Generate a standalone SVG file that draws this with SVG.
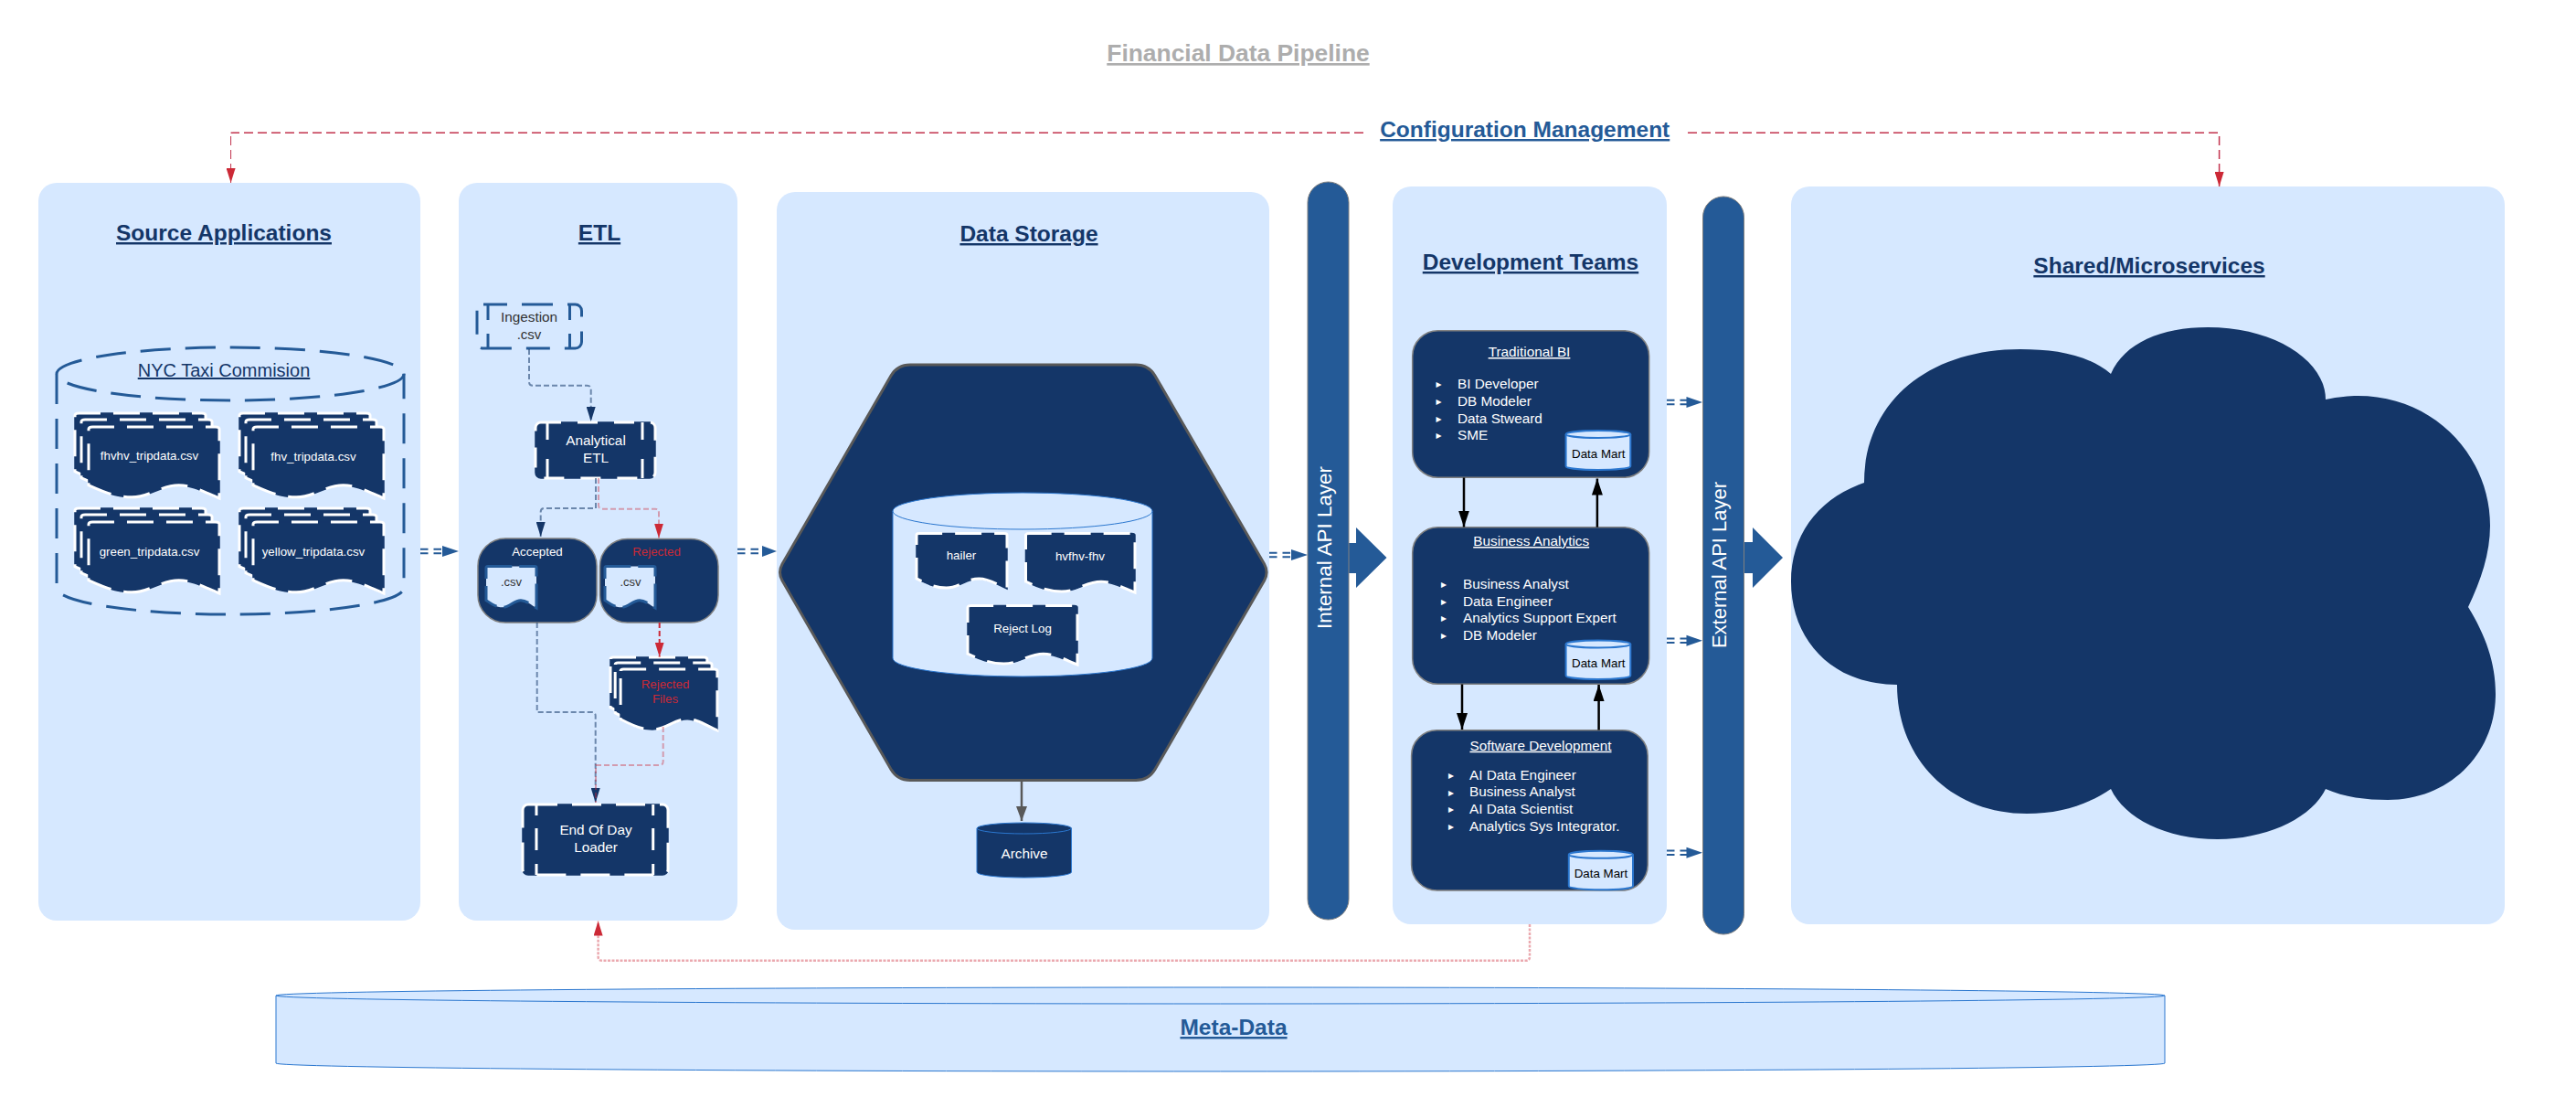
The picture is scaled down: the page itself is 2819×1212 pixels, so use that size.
<svg xmlns="http://www.w3.org/2000/svg" width="2819" height="1212" viewBox="0 0 2819 1212">
<style>
text{font-family:"Liberation Sans",Arial,sans-serif;text-anchor:middle}
.panel{fill:#d6e8ff}
.h{font-size:24.5px;font-weight:bold;fill:#143668;text-decoration:underline}
.hb{font-size:24.5px;font-weight:bold;fill:#245a97;text-decoration:underline}
.t13{font-size:13.33px;fill:#fff}
.t15{font-size:15.33px;fill:#fff}
.li{font-size:15.33px;fill:#fff;text-anchor:start}
.bu{font-size:12px;fill:#fff;font-family:"DejaVu Sans",sans-serif}
.u{text-decoration:underline}
.red{fill:#cc2936}
.blk{font-size:13.33px;fill:#000}
.base{fill:#143668;stroke:#143668;stroke-width:1.5}
.wd{fill:none;stroke:#fff;stroke-width:3;stroke-dasharray:29 14}
.ld{fill:#d6e8ff;stroke:#245a97;stroke-width:3;stroke-dasharray:29 8}
.wl{fill:none;stroke:#fff;stroke-width:3}
.box{fill:#143668;stroke:#808080;stroke-width:1.5}
.api{fill:#245a97;stroke:#808080;stroke-width:1}
.blk-arrow{fill:#245a97}
.cyl{fill:#d6e8ff;stroke:#2b77cf;stroke-width:1}
.cyln{fill:#143668;stroke:#2b77cf;stroke-width:1}
.dm{fill:#d6e8ff;stroke:#2b77cf;stroke-width:2}
.dsh{fill:none;stroke:#245a97;stroke-width:3;stroke-dasharray:33 16}
.c-n{fill:none;stroke:#143668;stroke-opacity:.55;stroke-width:2;stroke-dasharray:6 3;marker-end:url(#aN)}
.c-r{fill:none;stroke:#cc2936;stroke-opacity:.4;stroke-width:2;stroke-dasharray:6 3;marker-end:url(#aR)}
.c-rs{fill:none;stroke:#cc2936;stroke-width:2;stroke-dasharray:6 3;marker-end:url(#aR)}
.c-top{fill:none;stroke:#c2334d;stroke-width:1.5;stroke-dasharray:10 5}
.c-k{fill:none;stroke:#000;stroke-width:2.5;marker-end:url(#aK)}
.c-g{fill:none;stroke:#595959;stroke-width:2.5;marker-end:url(#aG)}
.dbl{fill:none;stroke:#245a97;stroke-width:2;stroke-dasharray:8.5 6}
.bh{fill:#245a97}
</style>
<defs>
<marker id="aN" viewBox="0 0 16 10" refX="16" refY="5" markerWidth="16" markerHeight="10" markerUnits="userSpaceOnUse" orient="auto"><path d="M0,0L16,5L0,10Z" fill="#143668"/></marker>
<marker id="aR" viewBox="0 0 16 10" refX="16" refY="5" markerWidth="16" markerHeight="10" markerUnits="userSpaceOnUse" orient="auto"><path d="M0,0L16,5L0,10Z" fill="#cc2936"/></marker>
<marker id="aK" viewBox="0 0 18 12" refX="18" refY="6" markerWidth="18" markerHeight="12" markerUnits="userSpaceOnUse" orient="auto"><path d="M0,0L18,6L0,12Z" fill="#000"/></marker>
<marker id="aG" viewBox="0 0 16 12" refX="16" refY="6" markerWidth="16" markerHeight="12" markerUnits="userSpaceOnUse" orient="auto"><path d="M0,0L16,6L0,12Z" fill="#595959"/></marker>
<path id="doc" vector-effect="non-scaling-stroke" d="M0,.03C0,.01 .01,0 .03,0H.97C.99,0 1,.01 1,.03V1C.9,.93 .8,.817 .69,.817C.55,.817 .47,.985 .33,.985C.2,.985 .1,.9 0,.817Z"/>
<g id="one"><use href="#doc" class="base"/><use href="#doc" class="wd"/></g>
<g id="multi">
<use href="#one" transform="scale(143,78)"/>
<use href="#one" transform="translate(7,7) scale(143,78)"/>
<use href="#one" transform="translate(15,15) scale(143,78)"/>
</g>
</defs>
<rect width="2819" height="1212" fill="#fff"/>

<g id="title"><text x="1355" y="67" font-size="26.4" font-weight="bold" fill="#adadad" class="u">Financial Data Pipeline</text></g>

<g id="panel-source"><rect class="panel" x="42" y="200" width="418" height="807" rx="20"/><text class="h" x="245" y="263">Source Applications</text></g>
<g id="panel-etl"><rect class="panel" x="502" y="200" width="305" height="807" rx="20"/><text class="h" x="656" y="263">ETL</text></g>
<g id="panel-storage"><rect class="panel" x="850" y="210" width="539" height="807" rx="20"/><text class="h" x="1126" y="264">Data Storage</text></g>
<g id="panel-dev"><rect class="panel" x="1524" y="204" width="300" height="807" rx="20"/><text class="h" x="1675" y="295">Development Teams</text></g>
<g id="panel-shared"><rect class="panel" x="1960" y="204" width="781" height="807" rx="20"/><text class="h" x="2352" y="299">Shared/Microservices</text></g>

<g id="cloud"><path fill="#143668" d="M2040,528C2040,440 2110,382 2211,382C2250,382 2285,388 2310,409C2325,375 2365,358 2416,358C2490,358 2545,395 2545,437C2560,434 2570,433 2580,433C2665,433 2725,500 2725,575C2725,605 2715,635 2701,664C2720,695 2731,725 2731,759C2731,825 2680,875 2613,875C2590,875 2565,872 2545,863C2530,895 2480,918 2427,918C2370,918 2325,895 2310,863C2285,880 2255,890 2218,890C2135,890 2076,830 2076,749C2005,749 1960,700 1960,636C1960,585 1990,545 2040,528Z"/></g>

<g id="nyc-taxi">
<path class="dsh" d="M62,409V643A190,29 0 0 0 442,643V409"/>
<ellipse class="dsh" cx="252" cy="409" rx="190" ry="29"/>
<text x="245" y="412" font-size="20" fill="#143668" class="u">NYC Taxi Commision</text>
</g>
<g id="doc-fhvhv"><use href="#multi" transform="translate(82,452)"/><text class="t13" x="163.500" y="503">fhvhv_tripdata.csv</text></g>
<g id="doc-fhv"><use href="#multi" transform="translate(262,452)"/><text class="t13" x="343" y="504">fhv_tripdata.csv</text></g>
<g id="doc-green"><use href="#multi" transform="translate(82,556)"/><text class="t13" x="163.500" y="608">green_tripdata.csv</text></g>
<g id="doc-yellow"><use href="#multi" transform="translate(262,556)"/><text class="t13" x="343" y="608">yellow_tripdata.csv</text></g>

<g id="ingestion">
<rect x="522" y="333" width="114.500" height="48" rx="7" fill="none" stroke="#245a97" stroke-width="3" stroke-dasharray="26 16 34 16"/>
<path fill="none" stroke="#245a97" stroke-width="3" d="M534,333V350M534,365V381M623.500,333V350M623.500,365V381"/>
<text x="579" y="352" font-size="15.33" fill="#333">Ingestion</text>
<text x="579" y="371" font-size="15" fill="#333">.csv</text>
</g>
<g id="analytical-etl">
<rect x="586" y="462" width="131" height="61" rx="6" class="base"/>
<rect x="586" y="462" width="131" height="61" rx="6" class="wd" style="stroke-dasharray:22 18"/>
<path class="wl" d="M599,462V481M599,502V523M703,462V481M703,502V523"/>
<text class="t15" x="652" y="487">Analytical</text>
<text class="t15" x="652" y="506">ETL</text>
</g>
<g id="accepted">
<rect class="box" x="523" y="589" width="130" height="92" rx="30"/>
<text class="t13" x="588" y="608">Accepted</text>
<use href="#doc" class="ld" transform="translate(532,619.500) scale(55,45.500)"/>
<text x="559.500" y="641" font-size="13" fill="#333">.csv</text>
</g>
<g id="rejected">
<rect class="box" x="656.500" y="589.500" width="129.500" height="91.500" rx="30"/>
<text class="t13 red" x="718.500" y="608">Rejected</text>
<use href="#doc" class="ld" transform="translate(662,619.500) scale(55,45.500)"/>
<text x="690" y="641" font-size="13" fill="#333">.csv</text>
</g>
<g id="rejected-files">
<use href="#multi" transform="translate(668,719) scale(.74,.86)"/>
<text class="t13 red" x="728" y="753">Rejected</text>
<text class="t13 red" x="728" y="769">Files</text>
</g>
<g id="eod-loader">
<rect x="572" y="880" width="159" height="77" rx="6" class="base"/>
<rect x="572" y="880" width="159" height="77" rx="6" class="wd" style="stroke-dasharray:32 16"/>
<path class="wl" d="M587,880V892M587,906V930M587,945V957M714.700,880V892M714.700,906V930M714.700,945V957"/>
<text class="t15" x="652" y="912.500">End Of Day</text>
<text class="t15" x="652" y="931.500">Loader</text>
</g>

<g id="hexagon"><path fill="#143668" stroke="#595959" stroke-width="3" d="M856,617L975,411Q982,399 996,399H1243Q1257,399 1264,411L1383.600,617Q1388.600,626 1383.600,635L1264,841.500Q1257,853.500 1243,853.500H996Q982,853.500 975,841.500L856,635Q851,626 856,617Z"/></g>
<g id="storage-cylinder">
<path class="cyl" d="M977,559V720A142,20 0 0 0 1261,720V559"/>
<ellipse class="cyl" cx="1119" cy="559" rx="142" ry="20"/>
</g>
<g id="doc-hailer"><use href="#one" transform="translate(1003,583.500) scale(99,60.500)"/><text class="t13" x="1052" y="612">hailer</text></g>
<g id="doc-hvfhv"><use href="#one" transform="translate(1122.500,583.500) scale(119.500,64.500)"/><text class="t13" x="1182" y="613">hvfhv-fhv</text></g>
<g id="doc-reject-log"><use href="#one" transform="translate(1059,662.500) scale(120,64.500)"/><text class="t13" x="1119" y="692">Reject Log</text></g>
<g id="archive">
<path class="cyln" d="M1069,906V954A51.750,6 0 0 0 1172.500,954V906"/>
<ellipse class="cyln" cx="1120.750" cy="906" rx="51.750" ry="6"/>
<text class="t15" x="1121" y="938.500">Archive</text>
</g>

<g id="internal-api">
<path class="blk-arrow" d="M1470,594H1484V577L1517.500,610L1484,643V627H1470Z"/>
<rect class="api" x="1431" y="199" width="45" height="807" rx="22.500"/>
<text x="1457" y="599" font-size="22.4" fill="#fff" transform="rotate(-90 1457 599)">Internal API Layer</text>
</g>
<g id="external-api">
<path class="blk-arrow" d="M1902,593H1918V577L1951,610L1918,643V627H1902Z"/>
<rect class="api" x="1863.500" y="215" width="45" height="807" rx="22.500"/>
<text x="1888.500" y="618" font-size="22" fill="#fff" transform="rotate(-90 1888.500 618)">External API Layer</text>
</g>

<g id="team-bi">
<rect class="box" x="1545.700" y="361.700" width="259" height="160.600" rx="28"/>
<text class="t15 u" x="1673.500" y="390">Traditional BI</text>
<text class="bu" x="1574.500" y="424">▸</text><text class="li" x="1595" y="425">BI Developer</text>
<text class="bu" x="1574.500" y="443">▸</text><text class="li" x="1595" y="444">DB Modeler</text>
<text class="bu" x="1574.500" y="462">▸</text><text class="li" x="1595" y="462.700">Data Stweard</text>
<text class="bu" x="1574.500" y="480">▸</text><text class="li" x="1595" y="481.300">SME</text>
<path class="dm" d="M1713.600,475V510A35.350,4 0 0 0 1784.300,510V475"/><ellipse class="dm" cx="1749" cy="475" rx="35.350" ry="4"/>
<text class="blk" x="1749.300" y="500.500">Data Mart</text>
</g>
<g id="team-ba">
<rect class="box" x="1545.700" y="576.700" width="259" height="171.600" rx="28"/>
<text class="t15 u" x="1675.700" y="597">Business Analytics</text>
<text class="bu" x="1580" y="643">▸</text><text class="li" x="1601" y="644">Business Analyst</text>
<text class="bu" x="1580" y="662">▸</text><text class="li" x="1601" y="662.700">Data Engineer</text>
<text class="bu" x="1580" y="680">▸</text><text class="li" x="1601" y="681.300">Analytics Support Expert</text>
<text class="bu" x="1580" y="699">▸</text><text class="li" x="1601" y="700">DB Modeler</text>
<path class="dm" d="M1713.600,704.500V739A35.350,4 0 0 0 1784.300,739V704.500"/><ellipse class="dm" cx="1749" cy="704.500" rx="35.350" ry="4"/>
<text class="blk" x="1749.300" y="729.500">Data Mart</text>
</g>
<g id="team-sd">
<rect class="box" x="1544.600" y="798.700" width="258.600" height="175.300" rx="28"/>
<text class="t15 u" x="1686" y="820.700">Software Development</text>
<text class="bu" x="1588" y="852">▸</text><text class="li" x="1608" y="852.700">AI Data Engineer</text>
<text class="bu" x="1588" y="870.500">▸</text><text class="li" x="1608" y="871.300">Business Analyst</text>
<text class="bu" x="1588" y="889">▸</text><text class="li" x="1608" y="890">AI Data Scientist</text>
<text class="bu" x="1588" y="908">▸</text><text class="li" x="1608" y="908.700">Analytics Sys Integrator.</text>
<path class="dm" d="M1716.800,934.800V969.300A35.100,4 0 0 0 1787,969.300V934.800"/><ellipse class="dm" cx="1751.900" cy="934.800" rx="35.100" ry="4"/>
<text class="blk" x="1752" y="960">Data Mart</text>
</g>

<g id="meta-data">
<path class="cyl" d="M302,1089V1163A1033.500,9 0 0 0 2369,1163V1089"/>
<ellipse class="cyl" cx="1335.500" cy="1089" rx="1033.500" ry="9"/>
<text class="hb" x="1350" y="1132">Meta-Data</text>
</g>
<g id="config-label"><text class="hb" x="1668.700" y="150">Configuration Management</text></g>

<g id="connectors">
<path class="c-top" d="M1492,145.300H252.600"/>
<path fill="none" stroke="#c2334d" stroke-width="1" stroke-dasharray="10 5" marker-end="url(#aR)" d="M252.600,149V200"/>
<path class="c-top" d="M1847,145.300H2428.600"/>
<path fill="none" stroke="#c2334d" stroke-width="1.500" stroke-dasharray="10 5" marker-end="url(#aR)" d="M2428.600,149V204"/>

<path class="c-n" d="M579,382V417.500Q579,421.700 583,421.700H642.500Q646.700,421.700 646.700,426V461"/>
<path class="c-n" d="M652,523V556H596Q591.700,556 591.700,560V587"/>
<path class="c-r" d="M655,523V552.500Q655,556.700 659,556.700H717Q721,556.700 721,561V588.500"/>
<path class="c-n" d="M587.700,681V779H647.500Q651.700,779 651.700,783V878"/>
<path class="c-rs" d="M721.700,681V718.500"/>
<path class="c-r" d="M725.700,795V833Q725.700,837 721.500,837H652V878" style="marker-end:none"/>

<path class="c-g" d="M1118,854V898"/>
<path class="c-k" d="M1602,522.500V576.500"/>
<path class="c-k" d="M1747.900,576.700V523.500"/>
<path class="c-k" d="M1600,748.500V798"/>
<path class="c-k" d="M1749.600,798.500V749"/>

<path class="c-r" d="M1674,1011V1046.500Q1674,1050.700 1670,1050.700H659Q654.600,1050.700 654.600,1046.500V1007.500" style="stroke-width:2.5;stroke-dasharray:3 1.500"/>

<path class="dbl" d="M460,600.700H485M460,605.300H485"/><polygon class="bh" points="484,597 502,603 484,609"/>
<path class="dbl" d="M807,600.700H835M807,605.300H835"/><polygon class="bh" points="834,597 850,603 834,609"/>
<path class="dbl" d="M1389,604.700H1414M1389,609.300H1414"/><polygon class="bh" points="1413,601 1431,607 1413,613"/>
<path class="dbl" d="M1824,437.700H1846M1824,442.300H1846"/><polygon class="bh" points="1845.500,434 1863,440 1845.500,446"/>
<path class="dbl" d="M1824,698.400H1846M1824,703H1846"/><polygon class="bh" points="1845.500,694.700 1863,700.700 1845.500,706.700"/>
<path class="dbl" d="M1824,930.400H1846M1824,935H1846"/><polygon class="bh" points="1845.500,926.700 1863,932.700 1845.500,938.700"/>
</g>
</svg>
